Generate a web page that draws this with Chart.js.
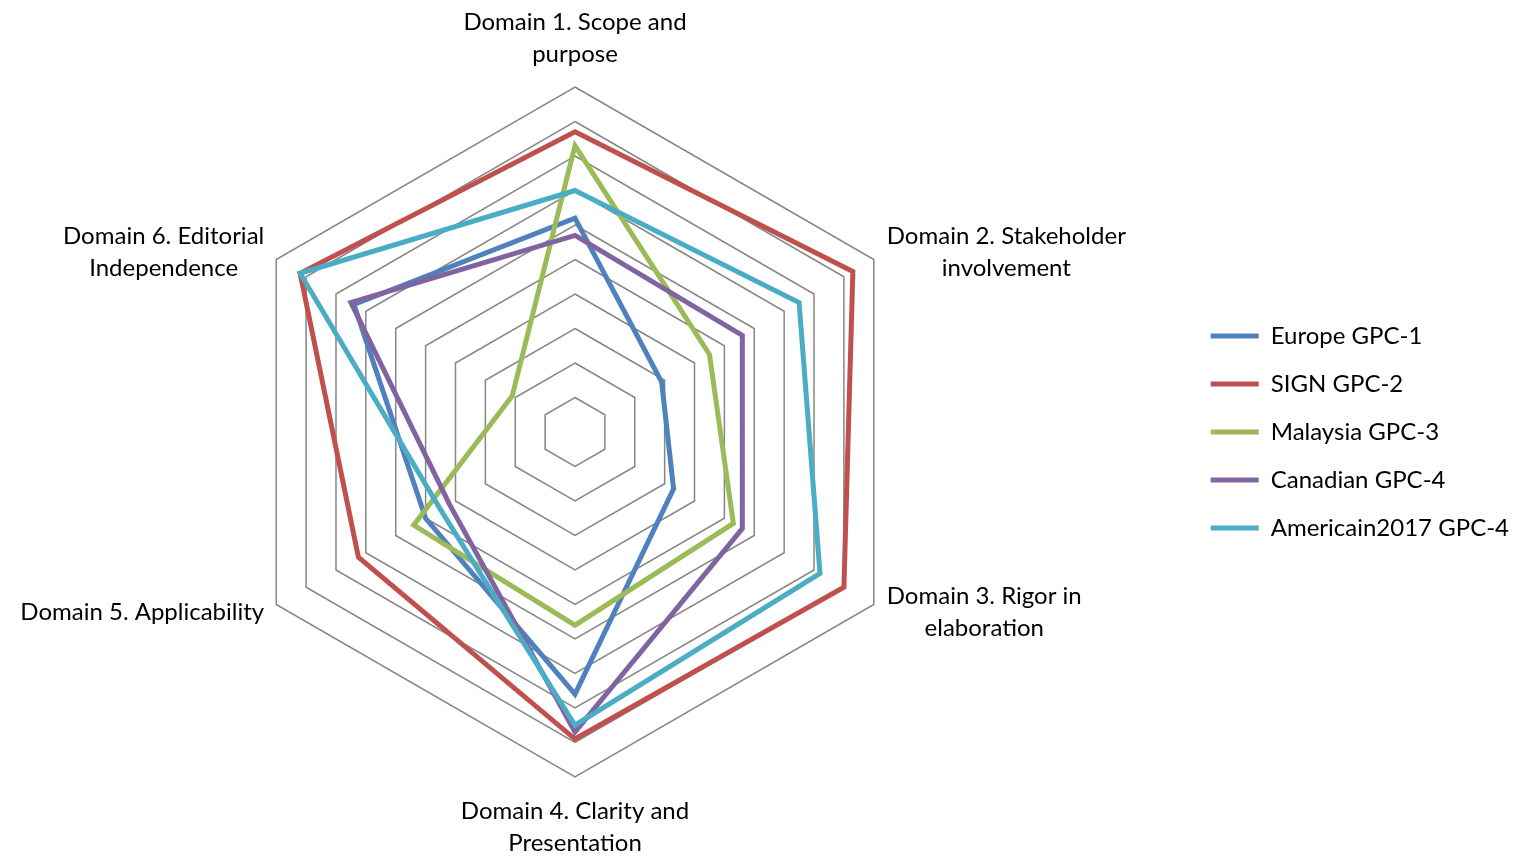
<!DOCTYPE html>
<html>
<head>
<meta charset="utf-8">
<title>AGREE II domains radar</title>
<script src="https://cdn.jsdelivr.net/npm/chart.js@4.4.1/dist/chart.umd.min.js"></script>
<style>
    html, body { margin: 0; padding: 0; background: #ffffff; }
    #wrap { width: 1515px; height: 857px; position: relative; }
</style>
</head>
<body>
<div id="wrap"><canvas id="radarChart"></canvas></div>
<script>
// Axis labels (one array per label, one entry per line)
const domains = [
    ['Domain 1. Scope and', 'purpose'],
    ['Domain 2. Stakeholder', 'involvement'],
    ['Domain 3. Rigor in', 'elaboration'],
    ['Domain 4. Clarity and', 'Presentation'],
    ['Domain 5. Applicability'],
    ['Domain 6. Editorial', 'Independence']
];

// Series values (domain scores, %)
const europe    = [62, 29, 33, 76, 50, 74];
const sign      = [87, 93, 90, 89, 72.5, 92];
const malaysia  = [83, 45, 53, 56, 54, 21];
const canadian  = [57, 56, 56, 87, 42, 75];
const american  = [70, 75, 82, 85, 45, 92];

const seriesNames = ['Europe GPC-1', 'SIGN GPC-2', 'Malaysia GPC-3', 'Canadian GPC-4', 'Americain2017 GPC-4'];
const seriesData = [europe, sign, malaysia, canadian, american];
const seriesColors = ['#4F81BD', '#C0504D', '#9BBB59', '#8064A2', '#4BACC6'];

// Scale
const scaleMin = 0;
const scaleMax = 100;
const scaleStep = 10;

const FONT_FAMILY = 'Lato, "Open Sans", sans-serif';
const FONT_SIZE = 24;
const LINE_H = 32.5;

// Excel-like placement of the domain labels around the outer ring
const domainLabelPlugin = {
    id: 'domainLabels',
    afterDraw(chart) {
        const scale = chart.scales.r;
        const ctx = chart.ctx;
        ctx.save();
        ctx.font = FONT_SIZE + 'px ' + FONT_FAMILY;
        ctx.fillStyle = '#000000';
        ctx.textAlign = 'center';
        ctx.textBaseline = 'middle';

        chart.data.labels.forEach((lines, i) => {
            const p = scale.getPointPositionForValue(i, scale.max);
            const dx = p.x - scale.xCenter;
            const dy = p.y - scale.yCenter;
            const w = Math.max(...lines.map(l => ctx.measureText(l).width));
            const h = lines.length * LINE_H;
            let cx, top;

            if (Math.abs(dx) < 1) {
                cx = p.x;
                top = dy < 0 ? p.y - 16 - h : p.y + 18;
            } else {
                cx = dx > 0 ? p.x + 13 + w / 2 : p.x - 12 - w / 2;
                const cy = p.y + (dy < 0 ? -7 : 8);
                top = cy - h / 2;
            }

            lines.forEach((line, j) => {
                ctx.fillText(line, cx, top + LINE_H * j + LINE_H / 2);
            });
        });
        ctx.restore();
    }
};

document.addEventListener('DOMContentLoaded', function () {
    initRadarChart();
});

function initRadarChart() {
    const ctx = document.getElementById('radarChart');
    if (!ctx) return;

    const datasets = seriesNames.map((name, i) => ({
        label: name,
        data: seriesData[i],
        borderColor: seriesColors[i],
        backgroundColor: seriesColors[i],
        borderWidth: 5,
        borderJoinStyle: 'miter',
        borderCapStyle: 'round',
        fill: false,
        tension: 0,
        pointRadius: 0,
        pointHoverRadius: 0,
        order: seriesNames.length - i
    }));

    new Chart(ctx, {
        type: 'radar',
        data: {
            labels: domains,
            datasets: datasets
        },
        options: {
            responsive: true,
            maintainAspectRatio: false,
            animation: false,
            layout: {
                padding: {
                    left: 0,
                    right: -4,
                    top: 87,
                    bottom: 80
                }
            },
            plugins: {
                legend: {
                    display: true,
                    position: 'right',
                    labels: {
                        usePointStyle: true,
                        pointStyle: 'line',
                        pointStyleWidth: 48,
                        padding: 24,
                        color: '#000000',
                        font: {
                            family: FONT_FAMILY,
                            size: FONT_SIZE
                        },
                        sort: (a, b) => a.datasetIndex - b.datasetIndex
                    }
                },
                tooltip: {
                    enabled: false
                }
            },
            scales: {
                r: {
                    min: scaleMin,
                    max: scaleMax,
                    // the web is not centred in the free area: labels on the left are wider
                    afterFit: function (scale) {
                        scale.xCenter -= 18;
                    },
                    ticks: {
                        stepSize: scaleStep,
                        display: false
                    },
                    grid: {
                        color: '#868686',
                        lineWidth: 1.5
                    },
                    angleLines: {
                        display: false
                    },
                    pointLabels: {
                        display: false
                    }
                }
            }
        },
        plugins: [domainLabelPlugin]
    });
}
</script>
</body>
</html>
